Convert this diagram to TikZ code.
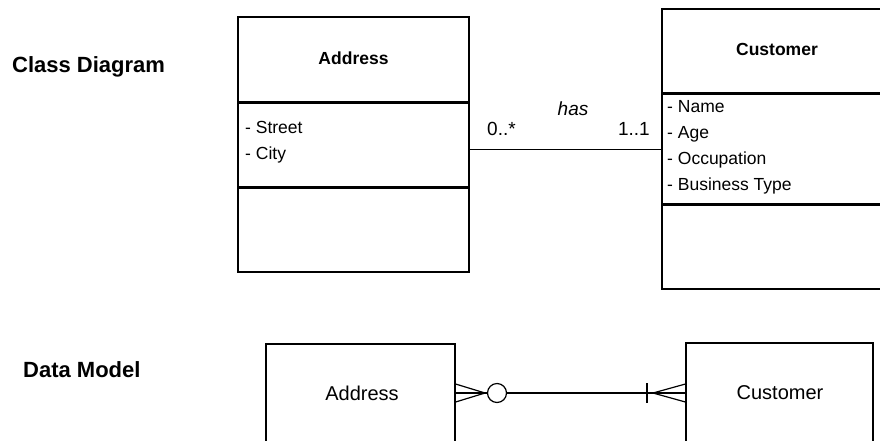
\documentclass[tikz,border=0pt]{standalone}
\usepackage{fontspec}
\setmainfont{Liberation Sans}
\begin{document}
\begin{tikzpicture}[x=1pt,y=-1pt,
  box/.style={draw=black,line width=1.2pt,inner sep=0pt},
  sep/.style={line width=3pt},
  conn/.style={line width=1.2pt},
  section/.style={font=\fontsize{22}{26}\selectfont\bfseries,anchor=base west,inner sep=0pt},
  ctitle/.style={font=\fontsize{17.5}{21}\selectfont\bfseries,anchor=base,inner sep=0pt},
  attr/.style={font=\fontsize{17.5}{21}\selectfont,anchor=base west,inner sep=0pt},
  alabel/.style={font=\fontsize{19}{23}\selectfont,anchor=base,inner sep=0pt},
  elabel/.style={font=\fontsize{20}{24}\selectfont,anchor=base,inner sep=0pt}]
\useasboundingbox (0,0) rectangle (880,440);
\clip (0,0) rectangle (880,440);

% section labels
\node[section] (lcd) at (12,72) {Class Diagram};
\node[section] (ldm) at (23,377) {Data Model};

% class boxes
\node[box,minimum width=231pt,minimum height=255pt] (ca) at (353.5,144.5) {};
\node[box,minimum width=230pt,minimum height=280pt] (cc) at (777,149) {};
\draw[sep] (ca.west |- 0,102) -- (ca.east |- 0,102);
\draw[sep] (ca.west |- 0,187) -- (ca.east |- 0,187);
\draw[sep] (cc.west |- 0,93) -- (cc.east |- 0,93);
\draw[sep] (cc.west |- 0,204) -- (cc.east |- 0,204);

\node[ctitle] (tca) at (353.5,64) {Address};
\node[ctitle] (tcc) at (777,55) {Customer};
\node[attr] (a1) at (245,133) {- Street};
\node[attr] (a2) at (245,159) {- City};
\node[attr] (c1) at (667,112) {- Name};
\node[attr] (c2) at (667,138) {- Age};
\node[attr] (c3) at (667,164.5) {- Occupation};
\node[attr] (c4) at (667,190.5) {- Business Type};

% association
\draw[conn] (ca.east |- 0,149.5) -- (cc.west |- 0,149.5);
\node[alabel,font=\fontsize{19}{23}\selectfont\itshape] (has) at (573,115) {has};
\node[alabel,anchor=base west] (m1) at (487,135) {0..*};
\node[alabel,anchor=base east] (m2) at (650,135) {1..1};

% data model
\node[box,minimum width=189pt,minimum height=140pt] (da) at (360.5,414) {};
\node[box,minimum width=187pt,minimum height=140pt] (dc) at (779.5,413) {};
\node[elabel] (tda) at (362,400) {Address};
\node[elabel] (tdc) at (780,399) {Customer};

\coordinate (fa) at (485,393);
\node[draw,circle,line width=1.2pt,minimum size=19pt,inner sep=0pt] (ring) at (497,393) {};
\coordinate (fc) at (653,393);
\draw[conn] (da.east |- 0,384) -- (fa);
\draw[conn] (da.east |- 0,393) -- (fa);
\draw[conn] (da.east |- 0,402) -- (fa);
\draw[conn] (fa) -- (ring.west);
\draw[conn] (ring.east) -- (dc.west |- 0,393);
\draw[conn] (647,383) -- (647,403);
\draw[conn] (fc) -- (dc.west |- 0,384);
\draw[conn] (fc) -- (dc.west |- 0,402);
\end{tikzpicture}
\end{document}
